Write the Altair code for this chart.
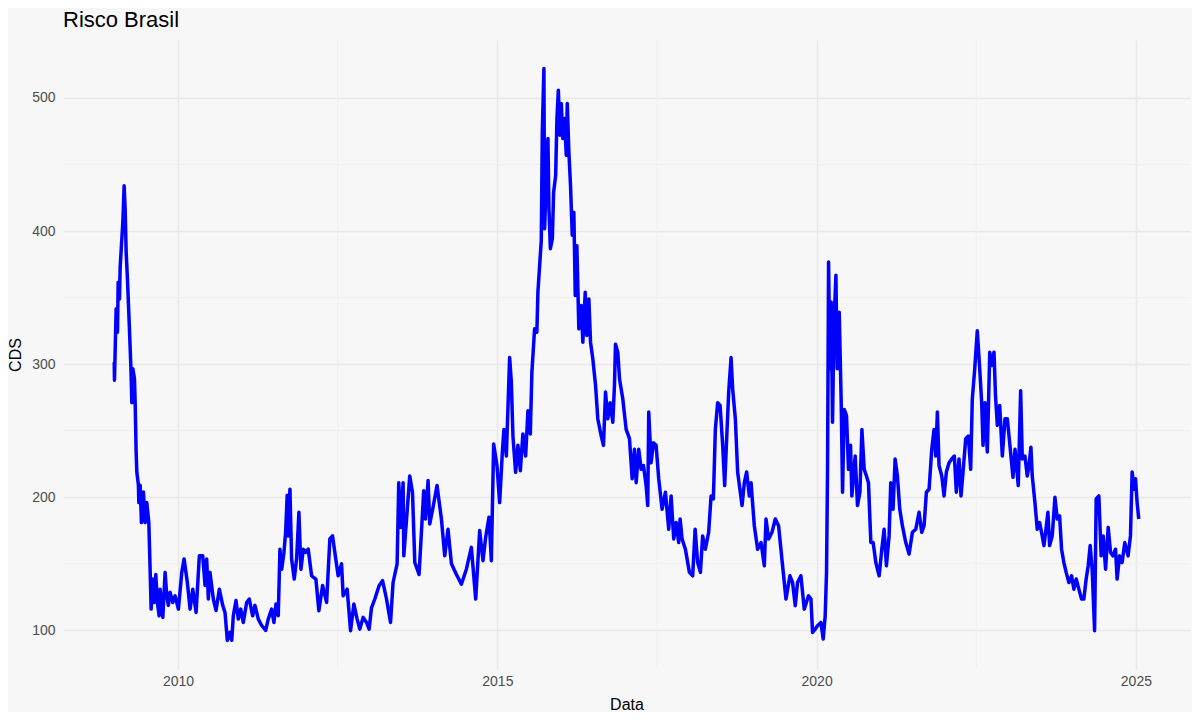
import altair as alt
import pandas as pd

# Decimal-year time stamps
anos = [
    2009.000, 2009.004, 2009.030, 2009.051, 2009.062, 2009.082, 2009.093, 2009.135, 2009.155, 2009.171,
    2009.187, 2009.207, 2009.234, 2009.260, 2009.276, 2009.292, 2009.317, 2009.328, 2009.343, 2009.354,
    2009.379, 2009.385, 2009.406, 2009.426, 2009.457, 2009.484, 2009.510, 2009.542, 2009.562, 2009.578,
    2009.604, 2009.625, 2009.651, 2009.676, 2009.703, 2009.718, 2009.761, 2009.797, 2009.823, 2009.848,
    2009.875, 2009.917, 2009.953, 2010.005, 2010.058, 2010.094, 2010.145, 2010.188, 2010.230, 2010.282,
    2010.333, 2010.386, 2010.422, 2010.448, 2010.474, 2010.500, 2010.552, 2010.594, 2010.646, 2010.699,
    2010.735, 2010.771, 2010.813, 2010.840, 2010.865, 2010.907, 2010.943, 2010.981, 2011.021, 2011.074,
    2011.115, 2011.168, 2011.204, 2011.256, 2011.309, 2011.372, 2011.412, 2011.465, 2011.501, 2011.533,
    2011.569, 2011.595, 2011.622, 2011.658, 2011.684, 2011.709, 2011.725, 2011.752, 2011.778, 2011.819,
    2011.856, 2011.892, 2011.924, 2011.960, 2011.997, 2012.038, 2012.091, 2012.158, 2012.205, 2012.263,
    2012.326, 2012.377, 2012.419, 2012.455, 2012.507, 2012.560, 2012.585, 2012.648, 2012.701, 2012.753,
    2012.804, 2012.846, 2012.898, 2012.951, 2012.992, 2013.029, 2013.081, 2013.148, 2013.202, 2013.264,
    2013.327, 2013.367, 2013.430, 2013.456, 2013.488, 2013.524, 2013.535, 2013.586, 2013.628, 2013.671,
    2013.707, 2013.774, 2013.847, 2013.874, 2013.915, 2013.941, 2013.993, 2014.055, 2014.124, 2014.176,
    2014.227, 2014.281, 2014.359, 2014.437, 2014.515, 2014.593, 2014.661, 2014.723, 2014.775, 2014.817,
    2014.869, 2014.906, 2014.942, 2014.994, 2015.036, 2015.078, 2015.103, 2015.141, 2015.192, 2015.219,
    2015.244, 2015.286, 2015.322, 2015.360, 2015.400, 2015.443, 2015.479, 2015.516, 2015.541, 2015.583,
    2015.619, 2015.635, 2015.662, 2015.688, 2015.704, 2015.729, 2015.740, 2015.767, 2015.792, 2015.808,
    2015.830, 2015.861, 2015.881, 2015.913, 2015.933, 2015.955, 2015.980, 2016.001, 2016.026, 2016.053,
    2016.079, 2016.095, 2016.120, 2016.146, 2016.173, 2016.198, 2016.220, 2016.245, 2016.276, 2016.314,
    2016.339, 2016.376, 2016.401, 2016.433, 2016.459, 2016.495, 2016.538, 2016.573, 2016.627, 2016.662,
    2016.694, 2016.730, 2016.767, 2016.808, 2016.834, 2016.850, 2016.886, 2016.913, 2016.964, 2017.017,
    2017.069, 2017.111, 2017.147, 2017.174, 2017.214, 2017.252, 2017.288, 2017.330, 2017.355, 2017.371,
    2017.408, 2017.444, 2017.486, 2017.527, 2017.580, 2017.632, 2017.684, 2017.721, 2017.762, 2017.800,
    2017.840, 2017.862, 2017.893, 2017.945, 2018.008, 2018.059, 2018.097, 2018.137, 2018.180, 2018.215,
    2018.257, 2018.309, 2018.347, 2018.383, 2018.414, 2018.450, 2018.488, 2018.529, 2018.560, 2018.591,
    2018.623, 2018.660, 2018.685, 2018.727, 2018.763, 2018.832, 2018.868, 2018.904, 2018.946, 2018.973,
    2019.024, 2019.076, 2019.129, 2019.181, 2019.207, 2019.248, 2019.301, 2019.353, 2019.404, 2019.467,
    2019.520, 2019.582, 2019.623, 2019.665, 2019.701, 2019.754, 2019.806, 2019.873, 2019.911, 2019.936,
    2019.978, 2020.014, 2020.067, 2020.103, 2020.134, 2020.155, 2020.171, 2020.187, 2020.208, 2020.228,
    2020.249, 2020.271, 2020.302, 2020.322, 2020.354, 2020.385, 2020.406, 2020.432, 2020.468, 2020.499,
    2020.531, 2020.552, 2020.604, 2020.640, 2020.678, 2020.709, 2020.745, 2020.780, 2020.812, 2020.849,
    2020.885, 2020.927, 2020.979, 2021.021, 2021.057, 2021.093, 2021.135, 2021.161, 2021.197, 2021.229,
    2021.265, 2021.302, 2021.343, 2021.396, 2021.448, 2021.500, 2021.553, 2021.604, 2021.646, 2021.683,
    2021.719, 2021.761, 2021.803, 2021.839, 2021.866, 2021.891, 2021.917, 2021.960, 2021.996, 2022.032,
    2022.074, 2022.116, 2022.157, 2022.188, 2022.230, 2022.261, 2022.293, 2022.335, 2022.376, 2022.413,
    2022.438, 2022.476, 2022.516, 2022.554, 2022.585, 2022.606, 2022.637, 2022.673, 2022.711, 2022.742,
    2022.778, 2022.801, 2022.830, 2022.867, 2022.908, 2022.950, 2022.986, 2023.023, 2023.075, 2023.107,
    2023.158, 2023.195, 2023.221, 2023.262, 2023.299, 2023.325, 2023.356, 2023.377, 2023.419, 2023.455,
    2023.492, 2023.533, 2023.560, 2023.586, 2023.622, 2023.649, 2023.690, 2023.732, 2023.768, 2023.805,
    2023.836, 2023.872, 2023.908, 2023.951, 2023.993, 2024.029, 2024.065, 2024.107, 2024.149, 2024.185,
    2024.221, 2024.253, 2024.284, 2024.315, 2024.353, 2024.378, 2024.420, 2024.456, 2024.488, 2024.525,
    2024.566, 2024.603, 2024.639, 2024.681, 2024.706, 2024.744, 2024.784, 2024.826, 2024.878, 2024.915,
    2024.941, 2024.972, 2024.994, 2025.019, 2025.045,
]

# CDS values (basis points)
cds = [
    301.5, 288, 341.6, 324, 361.6, 349, 373, 406.8, 434, 416.8,
    384, 364, 331.6, 299, 271, 296.5, 289, 271, 234, 219,
    209, 196, 209, 181, 204, 181, 196, 181, 146, 116,
    138.6, 121, 142, 121, 111, 131, 109.8, 143.6, 126, 118.8,
    128.6, 121, 126, 116, 143.6, 153.6, 136, 116, 131, 113.5,
    156, 156, 133.8, 153.6, 123.6, 143.6, 123.6, 115, 131, 118.8,
    113.5, 92.5, 98.5, 92.5, 111, 122.5, 108.5, 116, 106, 121,
    123.6, 111, 118.8, 108.5, 103.7, 100, 108.5, 116, 106, 119.8,
    111, 161, 146, 158.6, 173.7, 201.5, 171, 206, 153.6, 138.6,
    153.6, 188.7, 146, 161, 158.6, 161, 141, 138.6, 114.8, 133.8,
    121, 168.7, 171, 158.6, 141, 150, 126, 131, 99.8, 119.8,
    108.5, 101, 109.8, 106, 101, 117, 123.6, 133.6, 137.4, 123.6,
    106, 136, 150, 211, 177.4, 211, 156, 188.7, 216, 203.8,
    151, 142, 205, 183.7, 212.6, 180, 192.5, 208.8, 183.7, 156,
    176, 150, 142, 134.8, 146, 162.4, 123.6, 175, 152.4, 170,
    185, 152.4, 240, 223.8, 196, 233.8, 251, 231, 305, 286.5,
    246, 218.8, 239, 220, 247.6, 231, 265, 247.6, 294, 326.5,
    324, 354, 374, 393, 474.4, 522, 401.7, 439, 469.4, 416.8,
    386.7, 394, 429, 441.7, 484.5, 505.8, 472, 495.7, 469.4, 484.5,
    457, 495.7, 459.4, 434, 396.8, 414, 351.6, 389, 326.5, 344,
    316.5, 354, 321.6, 349, 316.5, 304, 284, 259, 246, 239,
    279, 259, 271, 256.4, 284, 315, 309, 289, 274, 251,
    244, 214, 236, 211, 236, 221, 223.8, 208.8, 193.8, 264,
    226, 241, 239, 214, 191, 203.8, 176, 201, 168.7, 181,
    166, 183.7, 168.7, 161, 143.6, 141, 176, 151, 143.6, 171,
    161, 173.7, 201, 198.8, 251, 271, 269, 239, 208.8, 244,
    279, 305, 281.5, 259, 219, 193.8, 211, 219, 201, 211,
    178.7, 161, 166, 148.6, 183.7, 168.7, 173.7, 183.7, 178.7, 148.6,
    123.6, 141, 136, 118.6, 136, 141, 116, 126, 123.6, 98.5,
    101, 103.5, 106, 93.5, 111, 143.6, 221, 376.7, 296.5, 346.6,
    256.4, 329, 366.7, 296.5, 339, 271, 203.8, 266, 261.4, 221,
    239, 201, 231, 193.8, 203.8, 251, 221, 216, 211, 166,
    166, 151, 141, 161, 176, 148.6, 171, 211, 191, 228.8,
    216, 191, 178.7, 166, 157.4, 173.7, 176, 188.7, 173.7, 178.7,
    203.8, 206, 236, 251, 231, 264, 223.8, 216, 201, 219,
    226, 228.8, 231, 203.8, 228.8, 201, 219, 244, 246, 221,
    274, 296.5, 325, 296.5, 271, 239, 271, 234, 309, 299,
    309, 276.5, 254, 269, 231, 259, 259, 241, 215, 236,
    208.8, 280, 228.8, 231, 216, 223.8, 237.6, 216, 196, 176,
    181, 171, 163.7, 173.7, 188.7, 163.7, 171, 200, 183.7, 186,
    161, 151, 143.6, 136, 141, 131, 138.6, 131, 123.6, 123.6,
    138.6, 148.6, 163.7, 146, 99.8, 198.8, 201, 156, 171, 146,
    177.4, 158.6, 156, 161, 138.6, 156, 151, 166, 156, 171,
    219, 206, 214, 196, 183.7,
]

titulo = ["Risco Brasil"]
x_ticks = [2010, 2015, 2020, 2025]
x_minor = [2012.5, 2017.5, 2022.5]
y_ticks = [100, 200, 300, 400, 500]
y_minor = [150, 250, 350, 450]

df = pd.DataFrame({"ano": anos, "cds": cds})

# ggplot-like 5% expansion of the data range
def expand(lo, hi, f=0.05):
    d = (hi - lo) * f
    return [lo - d, hi + d]

x_dom = expand(min(anos), max(anos))
y_dom = expand(min(cds), max(cds))

FONT = "Liberation Sans"
BG = "#f7f7f7"
GRID = "#e8e8e8"
GRID_MINOR = "#efefef"

x_scale = alt.Scale(domain=x_dom, nice=False, zero=False)
y_scale = alt.Scale(domain=y_dom, nice=False, zero=False)

minor_v = alt.Chart(pd.DataFrame({"m": x_minor})).mark_rule(
    color=GRID_MINOR, strokeWidth=1
).encode(x=alt.X("m:Q", scale=x_scale))

minor_h = alt.Chart(pd.DataFrame({"m": y_minor})).mark_rule(
    color=GRID_MINOR, strokeWidth=1
).encode(y=alt.Y("m:Q", scale=y_scale))

line = alt.Chart(df).mark_line(
    color="#0000ff", strokeWidth=3.5, strokeJoin="round", strokeCap="butt"
).encode(
    x=alt.X(
        "ano:Q",
        scale=x_scale,
        title="Data",
        axis=alt.Axis(values=x_ticks, format="d", grid=True, labelPadding=5,
                      titlePadding=8),
    ),
    y=alt.Y(
        "cds:Q",
        scale=y_scale,
        title="CDS",
        axis=alt.Axis(values=y_ticks, format="d", grid=True, labelPadding=8,
                      titlePadding=8),
    ),
)

title_text = alt.Chart(pd.DataFrame({"t": titulo})).mark_text(
    align="left", baseline="alphabetic", font=FONT, fontSize=22, color="#000000"
).encode(x=alt.value(0), y=alt.value(-13), text="t:N")

chart = (
    alt.layer(minor_v, minor_h, line, title_text)
    .properties(
        width=1127,
        height=629,
        autosize=alt.AutoSizeParams(type="none"),
        padding={"left": 55, "top": 32, "right": 2, "bottom": 43},
    )
    .configure(background=BG)
    .configure_view(stroke=None, fill=BG)
    .configure_axis(
        domain=False,
        ticks=False,
        gridColor=GRID,
        gridWidth=1.5,
        labelFont=FONT,
        labelFontSize=14,
        labelColor="#4d4d4d",
        titleFont=FONT,
        titleFontSize=16,
        titleFontWeight="normal",
        titleColor="#000000",
    )
)

chart.save("out.html", embed_options={"renderer": "svg", "actions": False})
